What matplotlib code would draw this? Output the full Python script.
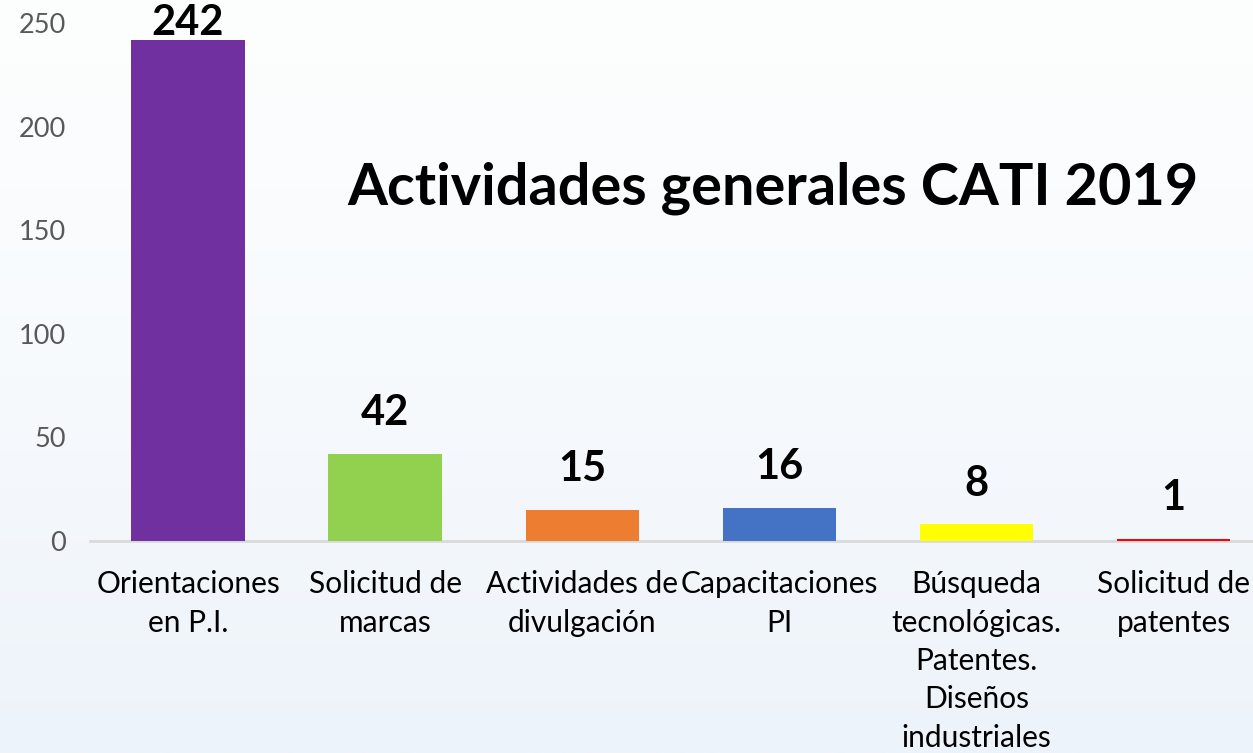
import numpy as np
import matplotlib.pyplot as plt
from matplotlib.colors import LinearSegmentedColormap

categories = ['Orientaciones\nen P.I.', 'Solicitud de\nmarcas', 'Actividades de\ndivulgación',
              'Capacitaciones\nPI', 'Búsqueda\ntecnológicas.\nPatentes.\nDiseños\nindustriales',
              'Solicitud de\npatentes']
values = [242, 42, 15, 16, 8, 1]
colors = ['#7030A0', '#92D050', '#ED7D31', '#4472C4', '#FFFF00', '#FF0000']
yticks = [0, 50, 100, 150, 200, 250]

plt.rcParams['font.family'] = ['Lato', 'DejaVu Sans']

fig = plt.figure(figsize=(12.53, 7.53), dpi=100)

# soft white-to-blue backdrop
bg = fig.add_axes([0, 0, 1, 1], zorder=0)
grad = np.linspace(0, 1, 256).reshape(-1, 1)
cmap = LinearSegmentedColormap.from_list('bg', ['#fdfefe', '#f7fafd', '#edf3fa'])
bg.imshow(grad, aspect='auto', cmap=cmap, extent=[0, 1, 0, 1], origin='upper')
bg.axis('off')

ax = fig.add_axes([89.5 / 1253, 1 - 541 / 753, 1182.5 / 1253, 518 / 753], zorder=1)
ax.patch.set_alpha(0)
x = np.arange(len(values))
ax.bar(x, values, width=0.575, color=colors, zorder=3)
ax.set_xlim(-0.5, len(values) - 0.5)
ax.set_ylim(0, 250)
ax.set_yticks(yticks)
ax.set_xticks(x)
ax.set_xticklabels(categories, fontsize=21.5, color='black', linespacing=1.45)
ax.tick_params(axis='y', length=0, pad=17, labelsize=19.5, labelcolor='#595959')
ax.tick_params(axis='x', length=0, pad=21)
for s in ['top', 'right', 'left']:
    ax.spines[s].set_visible(False)
ax.spines['bottom'].set_color('#D9D9D9')
ax.spines['bottom'].set_linewidth(2)
ax.spines['bottom'].set_zorder(2)

for xi, v in zip(x, values):
    ax.text(xi, min(v + 10.5, 241), str(v), ha='center', va='bottom',
            fontsize=30, fontweight='bold', clip_on=False, zorder=4)

fig.text(773 / 1253, 1 - 188 / 753, 'Actividades generales CATI 2019', ha='center', va='center',
         fontsize=41.5, fontweight='bold', zorder=2)

fig.savefig('out.png', dpi=100)
